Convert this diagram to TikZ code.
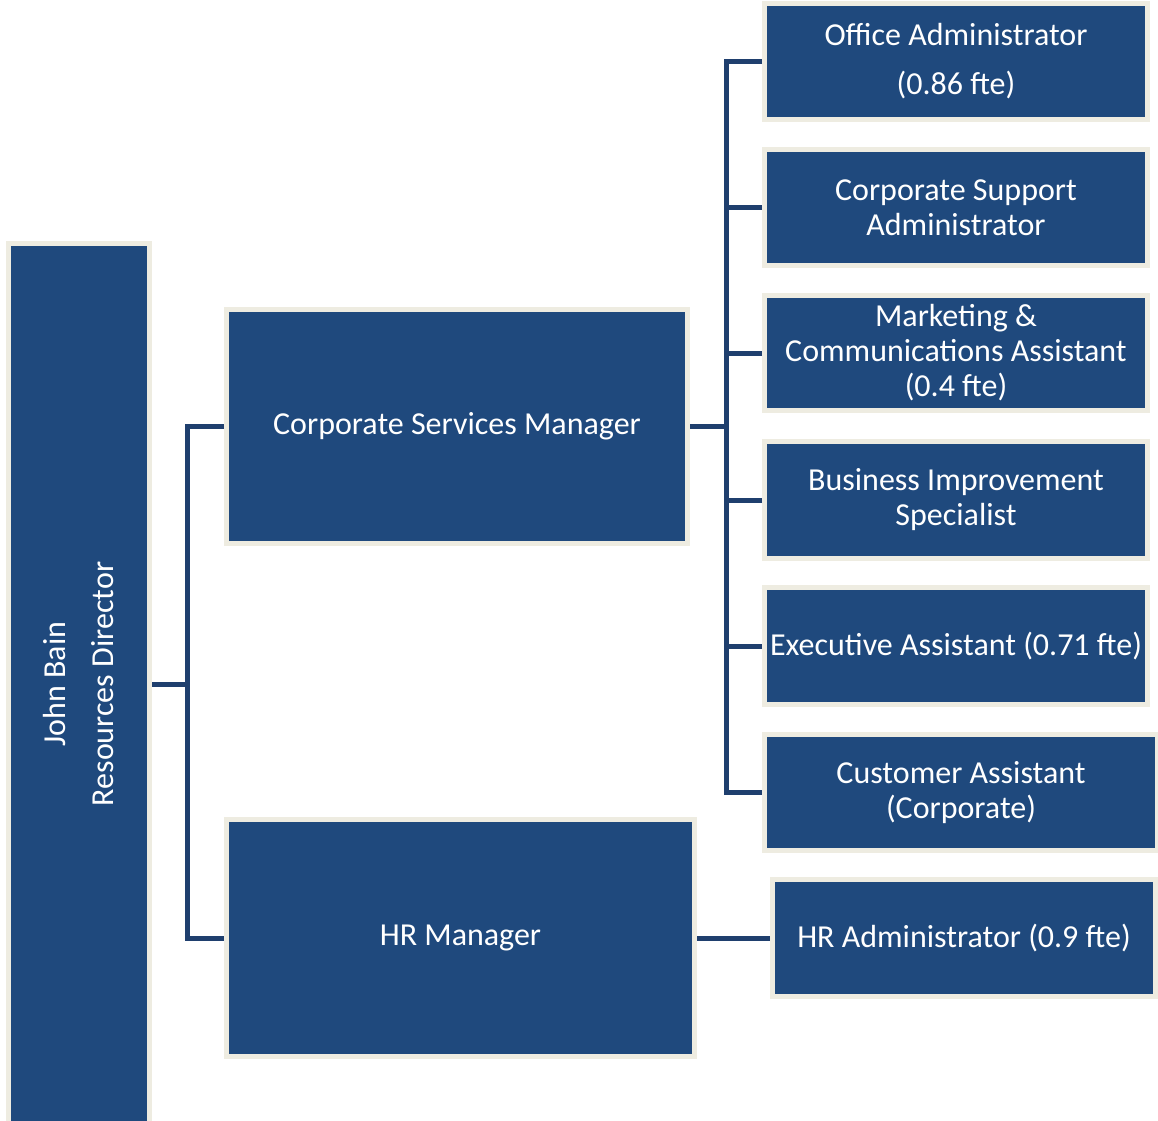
\documentclass[tikz,border=0pt]{standalone}
\usepackage{fontspec}
\setmainfont{Carlito}
\usepackage{tikz}
\usetikzlibrary{positioning}
\definecolor{boxblue}{HTML}{1F497D}
\definecolor{boxrim}{HTML}{EEECE1}
\definecolor{linkblue}{HTML}{1F3F6E}
\tikzset
{
    rolenode/.style = {rectangle, fill=boxblue, draw=boxrim, line width=5pt, text=white, align=center, inner sep=0pt, font=\fontsize{32pt}{35pt}\selectfont},
    leafnode/.style = {rolenode, minimum width=383pt, minimum height=116pt},
    link/.style     = {draw=linkblue, line width=5pt}
}
\begin{document}
\begin{tikzpicture}[x=1pt, y=-1pt]
	\useasboundingbox (0,0) rectangle (1158,1120);
	\clip (0,0) rectangle (1158,1120);
	\node[rolenode, rotate=90, minimum width=881pt, minimum height=141pt] (john) at (79,684) {John Bain\\[13pt]Resources Director};
	\node[rolenode, minimum width=461pt, minimum height=234pt] (csm) at (457,426.5) {Corporate Services Manager};
	\node[rolenode, minimum width=468pt, minimum height=237pt] (hrm) at (460.5,938) {HR Manager};
	\node[leafnode] (offadmin) at (956,61.5) {Office Administrator\\[14pt](0.86 fte)};
	\node[leafnode] (corpsupp) at (956,207.5) {Corporate Support\\Administrator};
	\node[leafnode, minimum height=115pt] (marcomm) at (956,353) {Marketing \&\\Communications Assistant\\(0.4 fte)};
	\node[leafnode, minimum height=117pt] (busimp) at (956,500) {Business Improvement\\Specialist};
	\node[leafnode, minimum height=117pt] (execassist) at (956,646) {Executive Assistant (0.71 fte)};
	\node[leafnode, minimum width=393pt] (custassist) at (961,792.5) {Customer Assistant\\(Corporate)};
	\node[leafnode, minimum height=117pt] (hradmin) at (964,938) {HR Administrator (0.9 fte)};
	% forks
	\coordinate (johnfork) at (187.5,684);
	\coordinate (csmfork) at (726,426.5);
	\draw[link] (john.south) -- (johnfork);
	\draw[link] (csm.west) -| (johnfork) |- (hrm.west);
	\draw[link] (csm.east) -- (csmfork);
	\draw[link] (offadmin.west) -| (csmfork) |- (custassist.west);
	\draw[link] (corpsupp.west) -- (corpsupp.west -| csmfork);
	\draw[link] (marcomm.west) -- (marcomm.west -| csmfork);
	\draw[link] (busimp.west) -- (busimp.west -| csmfork);
	\draw[link] (execassist.west) -- (execassist.west -| csmfork);
	\draw[link] (hrm.east) -- (hradmin.west);
\end{tikzpicture}
\end{document}
